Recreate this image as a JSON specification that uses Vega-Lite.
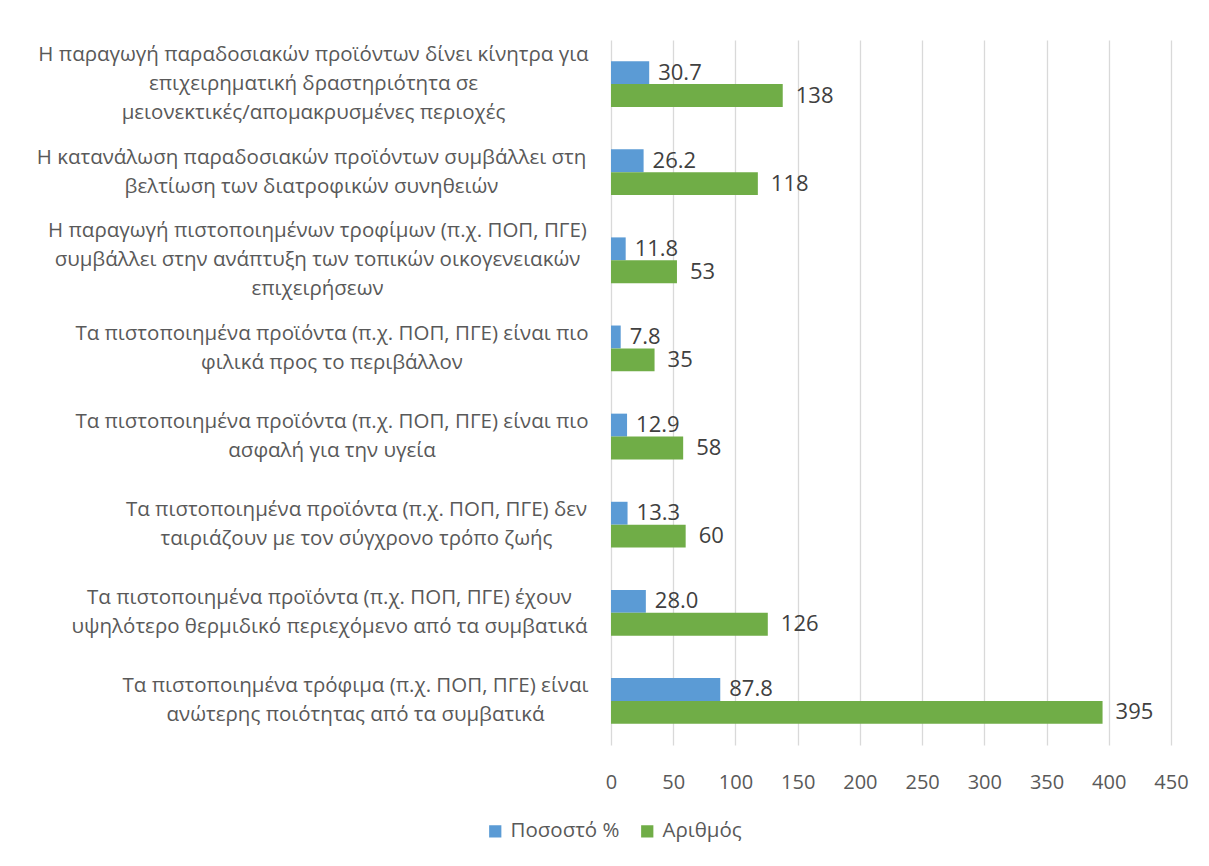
{
  "$schema": "https://vega.github.io/schema/vega-lite/v6.json",
  "width": 560,
  "height": 705,
  "autosize": "none",
  "padding": {"left": 611, "top": 40, "right": 38, "bottom": 121},
  "background": "white",
  "config": {
    "font": "Open Sans",
    "view": {"stroke": null}
  },
  "data": {
    "values": [
      {"category": "Η παραγωγή παραδοσιακών προϊόντων δίνει κίνητρα για|επιχειρηματική δραστηριότητα σε|μειονεκτικές/απομακρυσμένες περιοχές", "series": "Ποσοστό %", "value": 30.7},
      {"category": "Η παραγωγή παραδοσιακών προϊόντων δίνει κίνητρα για|επιχειρηματική δραστηριότητα σε|μειονεκτικές/απομακρυσμένες περιοχές", "series": "Αριθμός", "value": 138},
      {"category": "Η κατανάλωση παραδοσιακών προϊόντων συμβάλλει στη|βελτίωση των διατροφικών συνηθειών", "series": "Ποσοστό %", "value": 26.2},
      {"category": "Η κατανάλωση παραδοσιακών προϊόντων συμβάλλει στη|βελτίωση των διατροφικών συνηθειών", "series": "Αριθμός", "value": 118},
      {"category": "Η παραγωγή πιστοποιημένων τροφίμων (π.χ. ΠΟΠ, ΠΓΕ)|συμβάλλει στην ανάπτυξη των τοπικών οικογενειακών|επιχειρήσεων", "series": "Ποσοστό %", "value": 11.8},
      {"category": "Η παραγωγή πιστοποιημένων τροφίμων (π.χ. ΠΟΠ, ΠΓΕ)|συμβάλλει στην ανάπτυξη των τοπικών οικογενειακών|επιχειρήσεων", "series": "Αριθμός", "value": 53},
      {"category": "Τα πιστοποιημένα προϊόντα (π.χ. ΠΟΠ, ΠΓΕ) είναι πιο|φιλικά προς το περιβάλλον", "series": "Ποσοστό %", "value": 7.8},
      {"category": "Τα πιστοποιημένα προϊόντα (π.χ. ΠΟΠ, ΠΓΕ) είναι πιο|φιλικά προς το περιβάλλον", "series": "Αριθμός", "value": 35},
      {"category": "Τα πιστοποιημένα προϊόντα (π.χ. ΠΟΠ, ΠΓΕ) είναι πιο|ασφαλή για την υγεία", "series": "Ποσοστό %", "value": 12.9},
      {"category": "Τα πιστοποιημένα προϊόντα (π.χ. ΠΟΠ, ΠΓΕ) είναι πιο|ασφαλή για την υγεία", "series": "Αριθμός", "value": 58},
      {"category": "Τα πιστοποιημένα προϊόντα (π.χ. ΠΟΠ, ΠΓΕ) δεν|ταιριάζουν με τον σύγχρονο τρόπο ζωής", "series": "Ποσοστό %", "value": 13.3},
      {"category": "Τα πιστοποιημένα προϊόντα (π.χ. ΠΟΠ, ΠΓΕ) δεν|ταιριάζουν με τον σύγχρονο τρόπο ζωής", "series": "Αριθμός", "value": 60},
      {"category": "Τα πιστοποιημένα προϊόντα (π.χ. ΠΟΠ, ΠΓΕ) έχουν|υψηλότερο θερμιδικό περιεχόμενο από τα συμβατικά", "series": "Ποσοστό %", "value": 28.0},
      {"category": "Τα πιστοποιημένα προϊόντα (π.χ. ΠΟΠ, ΠΓΕ) έχουν|υψηλότερο θερμιδικό περιεχόμενο από τα συμβατικά", "series": "Αριθμός", "value": 126},
      {"category": "Τα πιστοποιημένα τρόφιμα (π.χ. ΠΟΠ, ΠΓΕ) είναι|ανώτερης ποιότητας από τα συμβατικά", "series": "Ποσοστό %", "value": 87.8},
      {"category": "Τα πιστοποιημένα τρόφιμα (π.χ. ΠΟΠ, ΠΓΕ) είναι|ανώτερης ποιότητας από τα συμβατικά", "series": "Αριθμός", "value": 395}
    ]
  },
  "encoding": {
    "y": {
      "field": "category",
      "type": "nominal",
      "sort": null,
      "scale": {"paddingInner": 0.48, "paddingOuter": 0.24},
      "axis": {
        "title": null,
        "domain": false,
        "ticks": false,
        "labelExpr": "split(datum.value, '|')",
        "labelFontSize": 20.5,
        "labelColor": "#595959",
        "labelLineHeight": 29,
        "labelAlign": "center",
        "labelLimit": 620,
        "labelPadding": {
          "condition": [
            {"test": "indexof(datum.value, 'κίνητρα') >= 0", "value": 298},
            {"test": "indexof(datum.value, 'κατανάλωση') >= 0", "value": 300},
            {"test": "indexof(datum.value, 'οικογενειακών') >= 0", "value": 294},
            {"test": "indexof(datum.value, 'περιβάλλον') >= 0", "value": 279.5},
            {"test": "indexof(datum.value, 'ασφαλή') >= 0", "value": 279.5},
            {"test": "indexof(datum.value, 'δεν|') >= 0", "value": 255},
            {"test": "indexof(datum.value, 'θερμιδικό') >= 0", "value": 282}
          ],
          "value": 256
        },
        "labelOffset": {
          "condition": {"test": "length(split(datum.value, '|')) == 3", "value": -29},
          "value": -14.5
        }
      }
    },
    "yOffset": {
      "field": "series",
      "type": "nominal",
      "sort": ["Ποσοστό %", "Αριθμός"]
    },
    "x": {
      "field": "value",
      "type": "quantitative",
      "scale": {"domain": [0, 450]},
      "axis": {
        "title": null,
        "values": [0, 50, 100, 150, 200, 250, 300, 350, 400, 450],
        "domain": false,
        "ticks": false,
        "grid": true,
        "gridColor": "#d9d9d9",
        "gridWidth": 1.3,
        "labelFontSize": 20,
        "labelColor": "#595959",
        "labelPadding": 27,
        "labelFlush": false
      }
    }
  },
  "layer": [
    {
      "mark": {"type": "bar"},
      "encoding": {
        "color": {
          "field": "series",
          "type": "nominal",
          "sort": ["Ποσοστό %", "Αριθμός"],
          "scale": {"domain": ["Ποσοστό %", "Αριθμός"], "range": ["#5B9BD5", "#70AD47"]},
          "legend": {
            "title": null,
            "orient": "none",
            "direction": "horizontal",
            "legendX": -126,
            "legendY": 781,
            "symbolType": "square",
            "symbolSize": 150,
            "symbolStrokeWidth": 0,
            "labelFontSize": 20.5,
            "labelColor": "#595959",
            "columnPadding": 17,
            "labelOffset": 5
          }
        }
      }
    },
    {
      "transform": [{"filter": "datum.series == 'Ποσοστό %'"}],
      "mark": {"type": "text", "align": "left", "dx": 9, "fontSize": 22, "color": "#404040"},
      "encoding": {"text": {"field": "value", "type": "quantitative", "format": ".1f"}}
    },
    {
      "transform": [{"filter": "datum.series == 'Αριθμός'"}],
      "mark": {"type": "text", "align": "left", "dx": 13, "fontSize": 22, "color": "#404040"},
      "encoding": {"text": {"field": "value", "type": "quantitative", "format": "d"}}
    }
  ]
}
